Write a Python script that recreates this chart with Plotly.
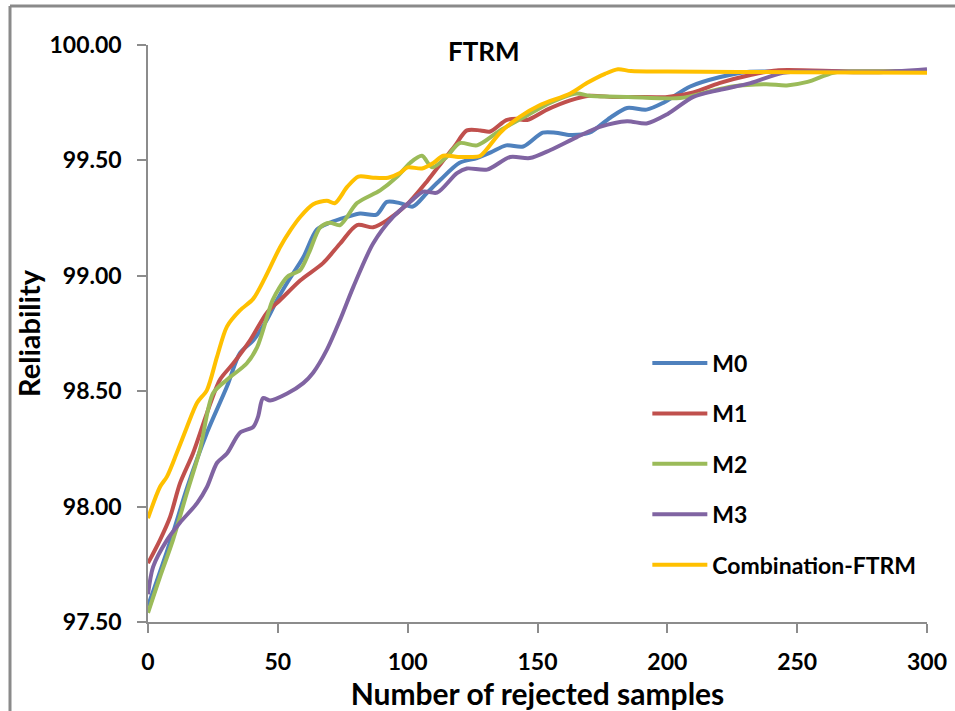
import plotly.graph_objects as go

# Reliability versus number of rejected samples for each model
m0_x = [0, 5, 9.6, 15, 22.7, 30.4, 35.4, 40.5, 45.8, 49.7, 53.6, 59.8, 65, 70, 76.7, 81.7, 88, 92, 97, 102,
        107.5, 112.5, 120, 126.7, 132, 138, 144.5, 152, 157, 162.6, 170, 178, 184.5, 192, 198.5, 208.8, 220,
        230.7, 240, 270, 300]
m0_y = [97.57, 97.73, 97.885, 98.08, 98.32, 98.52, 98.665, 98.72, 98.81, 98.895, 98.97, 99.08, 99.2, 99.23,
        99.255, 99.27, 99.265, 99.32, 99.315, 99.3, 99.36, 99.415, 99.49, 99.51, 99.535, 99.565, 99.56, 99.62,
        99.62, 99.61, 99.62, 99.685, 99.727, 99.72, 99.75, 99.82, 99.86, 99.883, 99.885, 99.885, 99.885]

m1_x = [0, 4.6, 8.5, 12.3, 17.3, 22.7, 27.7, 32.8, 39.3, 45.8, 50.9, 58.6, 67.4, 74, 80.5, 86.7, 92, 99.8,
        107.5, 113.7, 118, 122.8, 128, 131.8, 138, 142, 146, 153.7, 162.6, 170, 179, 187, 200, 210, 220, 232,
        242, 270, 300]
m1_y = [97.755, 97.855, 97.955, 98.10, 98.23, 98.405, 98.55, 98.62, 98.72, 98.84, 98.895, 98.98, 99.055,
        99.14, 99.22, 99.21, 99.24, 99.31, 99.41, 99.5, 99.56, 99.63, 99.63, 99.625, 99.675, 99.68, 99.675,
        99.72, 99.76, 99.78, 99.775, 99.775, 99.775, 99.795, 99.835, 99.87, 99.89, 99.885, 99.885]

m2_x = [0, 4.6, 9.6, 15, 20, 25, 30.4, 38, 42, 45.8, 48, 53.6, 58.6, 62, 66.3, 70, 74, 80.5, 89.4, 96, 101,
        105.5, 109.4, 115, 120, 126.7, 135.6, 146, 155, 165, 170, 185, 205, 215, 225, 238, 246, 254, 264, 275,
        300]
m2_y = [97.54, 97.695, 97.855, 98.06, 98.245, 98.49, 98.55, 98.62, 98.69, 98.82, 98.895, 98.995, 99.025,
        99.1, 99.21, 99.23, 99.22, 99.315, 99.37, 99.43, 99.49, 99.52, 99.47, 99.515, 99.575, 99.565, 99.63,
        99.695, 99.75, 99.79, 99.78, 99.775, 99.77, 99.795, 99.82, 99.83, 99.825, 99.84, 99.88, 99.885, 99.885]

m3_x = [0, 2, 7.3, 12.3, 18.9, 22.7, 26.6, 30.4, 35.4, 40.5, 42.4, 44.3, 47, 53.6, 59.8, 63.6, 68.9, 74, 79,
        86.7, 94.4, 102, 106, 111.3, 119, 122.8, 130.6, 139.5, 147, 155, 165, 174, 184.5, 192, 200, 210, 220,
        232, 244.6, 260, 280, 300]
m3_y = [97.62, 97.74, 97.855, 97.93, 98.015, 98.085, 98.19, 98.23, 98.32, 98.345, 98.39, 98.47, 98.46, 98.49,
        98.535, 98.58, 98.68, 98.81, 98.95, 99.14, 99.255, 99.33, 99.365, 99.36, 99.445, 99.465, 99.46, 99.515,
        99.51, 99.545, 99.6, 99.645, 99.67, 99.66, 99.7, 99.775, 99.805, 99.835, 99.88, 99.885, 99.882, 99.895]

comb_x = [0, 4.6, 7.3, 11, 15, 18.9, 22.7, 26.6, 30.4, 35.4, 40.5, 45, 50.9, 55, 58.6, 63.6, 68.9, 72, 76.7,
          81, 86.7, 92.5, 97, 100, 105.5, 110, 113.7, 119.4, 124, 128, 135.6, 143.3, 151, 162.6, 169, 176,
          181, 186, 200, 250, 300]
comb_y = [97.95, 98.085, 98.13, 98.23, 98.345, 98.45, 98.505, 98.65, 98.78, 98.85, 98.9, 98.99, 99.125, 99.2,
          99.255, 99.31, 99.325, 99.315, 99.385, 99.43, 99.425, 99.425, 99.445, 99.47, 99.465, 99.49, 99.52,
          99.515, 99.515, 99.52, 99.62, 99.69, 99.74, 99.79, 99.835, 99.875, 99.895, 99.887, 99.885, 99.882,
          99.88]

series_names = ["M0", "M1", "M2", "M3", "Combination-FTRM"]
series_x = [m0_x, m1_x, m2_x, m3_x, comb_x]
series_y = [m0_y, m1_y, m2_y, m3_y, comb_y]
colors = ["#4F81BD", "#C0504D", "#9BBB59", "#8064A2", "#FFC000"]

y_ticks = [97.5, 98.0, 98.5, 99.0, 99.5, 100.0]
x_ticks = [0, 50, 100, 150, 200, 250, 300]

FONT = "Lato"
AXIS_GRAY = "#8C8C8C"

fig = go.Figure()
for name, xs, ys, col in zip(series_names, series_x, series_y, colors):
    fig.add_trace(go.Scatter(
        x=xs, y=ys, name=name, mode="lines", legendgroup=name,
        line=dict(color=col, width=4, shape="spline", smoothing=0.8),
    ))

fig.update_layout(
    width=955, height=711,
    margin=dict(l=148, r=28, t=45, b=89, autoexpand=False),
    paper_bgcolor="white", plot_bgcolor="white",
    font=dict(family=FONT, color="black"),
    showlegend=True,
    legend=dict(
        x=0.641, y=0.486, xanchor="left", yanchor="top",
        traceorder="grouped", tracegroupgap=17.5,
        font=dict(family=FONT, size=23, color="black", weight="bold"),
        itemwidth=55, bgcolor="rgba(0,0,0,0)",
    ),
    xaxis=dict(
        range=[0, 300], tickvals=x_ticks, ticks="outside", ticklen=9, tickwidth=1.5,
        tickcolor=AXIS_GRAY, showline=True, linecolor=AXIS_GRAY, linewidth=1.5,
        showgrid=False, zeroline=False, ticklabelstandoff=10, automargin=False,
        tickfont=dict(family=FONT, size=23, color="black", weight="bold"),
        title=dict(text="Number of rejected samples", standoff=4,
                   font=dict(family=FONT, size=30, color="black", weight="bold")),
    ),
    yaxis=dict(
        range=[97.5, 100.0], tickvals=y_ticks, tickformat=".2f", ticks="outside", ticklen=9,
        tickwidth=1.5, tickcolor=AXIS_GRAY, showline=True, linecolor=AXIS_GRAY, linewidth=1.5,
        showgrid=False, zeroline=False, ticklabelstandoff=11, automargin=False,
        tickfont=dict(family=FONT, size=23, color="black", weight="bold"),
        title=dict(text="Reliability", standoff=0,
                   font=dict(family=FONT, size=29, color="black", weight="bold")),
    ),
)

# chart title inside the plot area
fig.add_annotation(
    text="<b>FTRM</b>", x=0.431, y=0.99, xref="paper", yref="paper",
    xanchor="center", yanchor="middle", showarrow=False,
    font=dict(family=FONT, size=26, color="black"),
)

# outer frame of the chart (top and left edges)
frame_left = (10 - 148) / 779
frame_top = (622 - 6) / 577
fig.add_shape(type="line", xref="paper", yref="paper", x0=frame_left, x1=1.05,
              y0=frame_top, y1=frame_top, line=dict(color="#8A8A8A", width=3))
fig.add_shape(type="line", xref="paper", yref="paper", x0=frame_left, x1=frame_left,
              y0=frame_top, y1=-0.2, line=dict(color="#8A8A8A", width=3))

fig.write_html("out.html")
